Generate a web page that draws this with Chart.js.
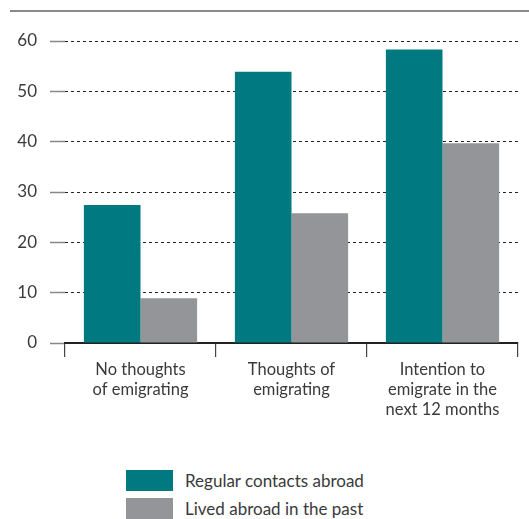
<!DOCTYPE html>
<html>
<head>
<meta charset="utf-8">
<script src="https://cdn.jsdelivr.net/npm/chart.js@4.4.0/dist/chart.umd.min.js"></script>
<style>
  body { margin: 0; background: #fff; font-family: Lato, sans-serif; }
  #wrap { position: relative; width: 529px; height: 519px; overflow: hidden; }
  #topline { position: absolute; left: 10px; right: 0; top: 10px; height: 2px; background: #8a8a8a; z-index: 2; }
  #chartbox { position: absolute; left: 0; top: 0; width: 529px; height: 440px; }
  #legend { position: absolute; left: 126px; top: 466px; }
  .item { height: 28px; display: flex; align-items: center; color: #3a3a3a; font-size: 17px; }
  .sw { width: 47px; height: 21px; margin-right: 12px; }
</style>
</head>
<body>
<div id="wrap">
  <div id="topline"></div>
  <div id="chartbox"><canvas id="myChart"></canvas></div>
  <div id="legend"></div>
</div>
<script>
var categories = [
    ['No thoughts', 'of emigrating'],
    ['Thoughts of', 'emigrating'],
    ['Intention to', 'emigrate in the', 'next 12 months']
];
var seriesNames = ['Regular contacts abroad', 'Lived abroad in the past'];
var regularContacts = [27.4, 53.9, 58.3];
var livedAbroad = [8.9, 25.8, 39.7];
var colors = ['#007a80', '#939598'];

document.addEventListener('DOMContentLoaded', function() {
    var ctx = document.getElementById('myChart').getContext('2d');

    var myChart = new Chart(ctx, {
        type: 'bar',
        data: {
            labels: categories,
            datasets: [{
                label: seriesNames[0],
                backgroundColor: colors[0],
                data: regularContacts
            }, {
                label: seriesNames[1],
                backgroundColor: colors[1],
                data: livedAbroad
            }]
        },
        options: {
            responsive: true,
            maintainAspectRatio: false,
            animation: false,
            layout: { padding: { top: 41, right: 11, left: 0, bottom: 0 } },
            datasets: {
                bar: { categoryPercentage: 0.75, barPercentage: 1.0 }
            },
            plugins: {
                legend: { display: false },
                tooltip: { enabled: false }
            },
            scales: {
                x: {
                    afterFit: function(scale) { scale.height = 97; },
                    grid: {
                        offset: true,
                        drawOnChartArea: false,
                        drawTicks: true,
                        tickLength: 14,
                        color: '#444',
                        lineWidth: 1.2
                    },
                    border: { display: true, color: '#222', width: 2 },
                    ticks: {
                        color: '#3a3a3a',
                        padding: 3,
                        font: { family: 'Lato', size: 16.5 }
                    }
                },
                y: {
                    min: 0,
                    max: 60,
                    afterFit: function(scale) { scale.width = 65; },
                    grid: {
                        color: '#222',
                        lineWidth: 1,
                        tickBorderDash: [1, 0],
                        tickColor: '#888',
                        tickWidth: 1.5,
                        tickLength: 15
                    },
                    border: { display: false, dash: [3, 3] },
                    ticks: {
                        stepSize: 10,
                        color: '#3a3a3a',
                        padding: 13,
                        font: { family: 'Lato', size: 17 }
                    }
                }
            }
        }
    });

    var legend = document.getElementById('legend');
    myChart.data.datasets.forEach(function(ds) {
        var row = document.createElement('div');
        row.className = 'item';
        var sw = document.createElement('div');
        sw.className = 'sw';
        sw.style.background = ds.backgroundColor;
        row.appendChild(sw);
        row.appendChild(document.createTextNode(ds.label));
        legend.appendChild(row);
    });
});
</script>
</body>
</html>
